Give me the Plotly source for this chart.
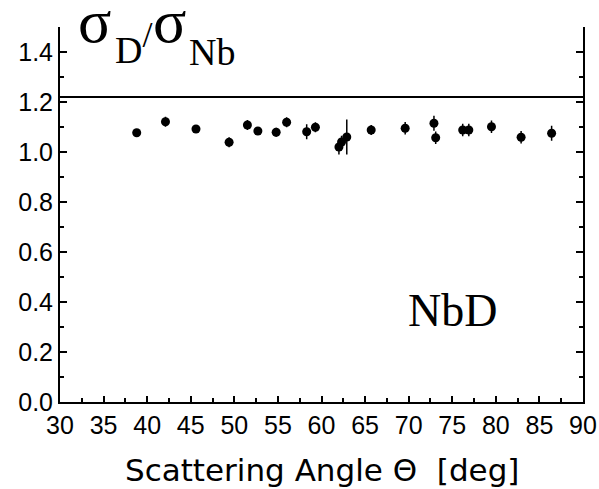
import plotly.graph_objects as go

angle = [38.8, 42.1, 45.6, 49.4, 51.5, 52.7, 54.8, 56.0, 58.3, 59.3,
         62.0, 62.3, 62.9, 65.7, 69.6, 72.9, 73.1, 76.2, 76.9, 79.5, 82.9, 86.4]
ratio = [1.077, 1.121, 1.092, 1.039, 1.108, 1.084, 1.079, 1.119, 1.081, 1.099,
         1.020, 1.040, 1.060, 1.088, 1.095, 1.115, 1.057, 1.088, 1.088, 1.101, 1.059, 1.075]
err = [0.010, 0.020, 0.012, 0.020, 0.020, 0.015, 0.018, 0.020, 0.030, 0.020,
       0.030, 0.025, 0.070, 0.020, 0.025, 0.030, 0.025, 0.025, 0.025, 0.025, 0.025, 0.030]
reference_level = 1.22

x_ticks = [30, 35, 40, 45, 50, 55, 60, 65, 70, 75, 80, 85, 90]
y_ticks = [0.0, 0.2, 0.4, 0.6, 0.8, 1.0, 1.2, 1.4]

fig = go.Figure()
fig.add_trace(go.Scatter(
    x=[30, 90], y=[reference_level, reference_level], mode="lines",
    line=dict(color="black", width=2), showlegend=False, hoverinfo="skip"))
fig.add_trace(go.Scatter(
    x=angle, y=ratio, mode="markers",
    marker=dict(symbol="circle", size=9, color="black"),
    error_y=dict(type="data", array=err, color="black", thickness=1.5, width=0),
    showlegend=False))

font_sans = "Liberation Sans, Arial, sans-serif"
font_wide = "DejaVu Sans, sans-serif"
font_serif = "Liberation Serif, Times New Roman, serif"


def label(text, x, y, size, xref="paper", yref="paper", xanchor="center", yanchor="middle"):
    return dict(text=text, xref=xref, yref=yref, x=x, y=y,
                xanchor=xanchor, yanchor=yanchor, showarrow=False,
                font=dict(family=font_serif, size=size, color="black"))


fig.update_layout(
    width=599, height=489,
    margin=dict(l=60, r=16, t=27, b=87),
    paper_bgcolor="white", plot_bgcolor="white",
    font=dict(family=font_sans, color="black", size=24),
    xaxis=dict(range=[30, 90], tickvals=x_ticks, ticktext=[str(v) for v in x_ticks],
               ticks="inside", ticklen=6, tickwidth=1.5, tickcolor="black",
               showline=True, linecolor="black", linewidth=2, mirror=False,
               showgrid=False, zeroline=False, automargin=False,
               minor=dict(dtick=2.5, tick0=30, ticks="inside", ticklen=4, tickcolor="black"),
               tickfont=dict(size=25, family=font_sans)),
    yaxis=dict(range=[0, 1.5], tickvals=y_ticks, ticktext=[f"{v:.1f}" for v in y_ticks],
               ticks="inside", ticklen=7, tickwidth=1.5, tickcolor="black",
               showline=True, linecolor="black", linewidth=2, mirror="ticks",
               showgrid=False, zeroline=False, automargin=False,
               minor=dict(dtick=0.1, tick0=0, ticks="inside", ticklen=4, tickcolor="black"),
               tickfont=dict(size=25, family=font_sans)),
    annotations=[
        label("\u03c3", 0.0669, 1.016, 62),
        label("D<sup><span style='font-size:36px'>/</span></sup>", 0.1013, 0.877, 38,
              xanchor="left", yanchor="bottom"),
        label("\u03c3", 0.2103, 1.016, 62),
        label("Nb", 0.2906, 0.9333, 38),
        label("NbD", 75.0, 0.368, 46, xref="x", yref="y"),
        dict(text="Scattering Angle \u0398  [deg]", xref="paper", yref="paper",
             x=0.5, y=-0.181, xanchor="center", yanchor="middle", showarrow=False,
             font=dict(family=font_wide, size=31, color="black")),
    ],
)

fig.write_html("out.html")
